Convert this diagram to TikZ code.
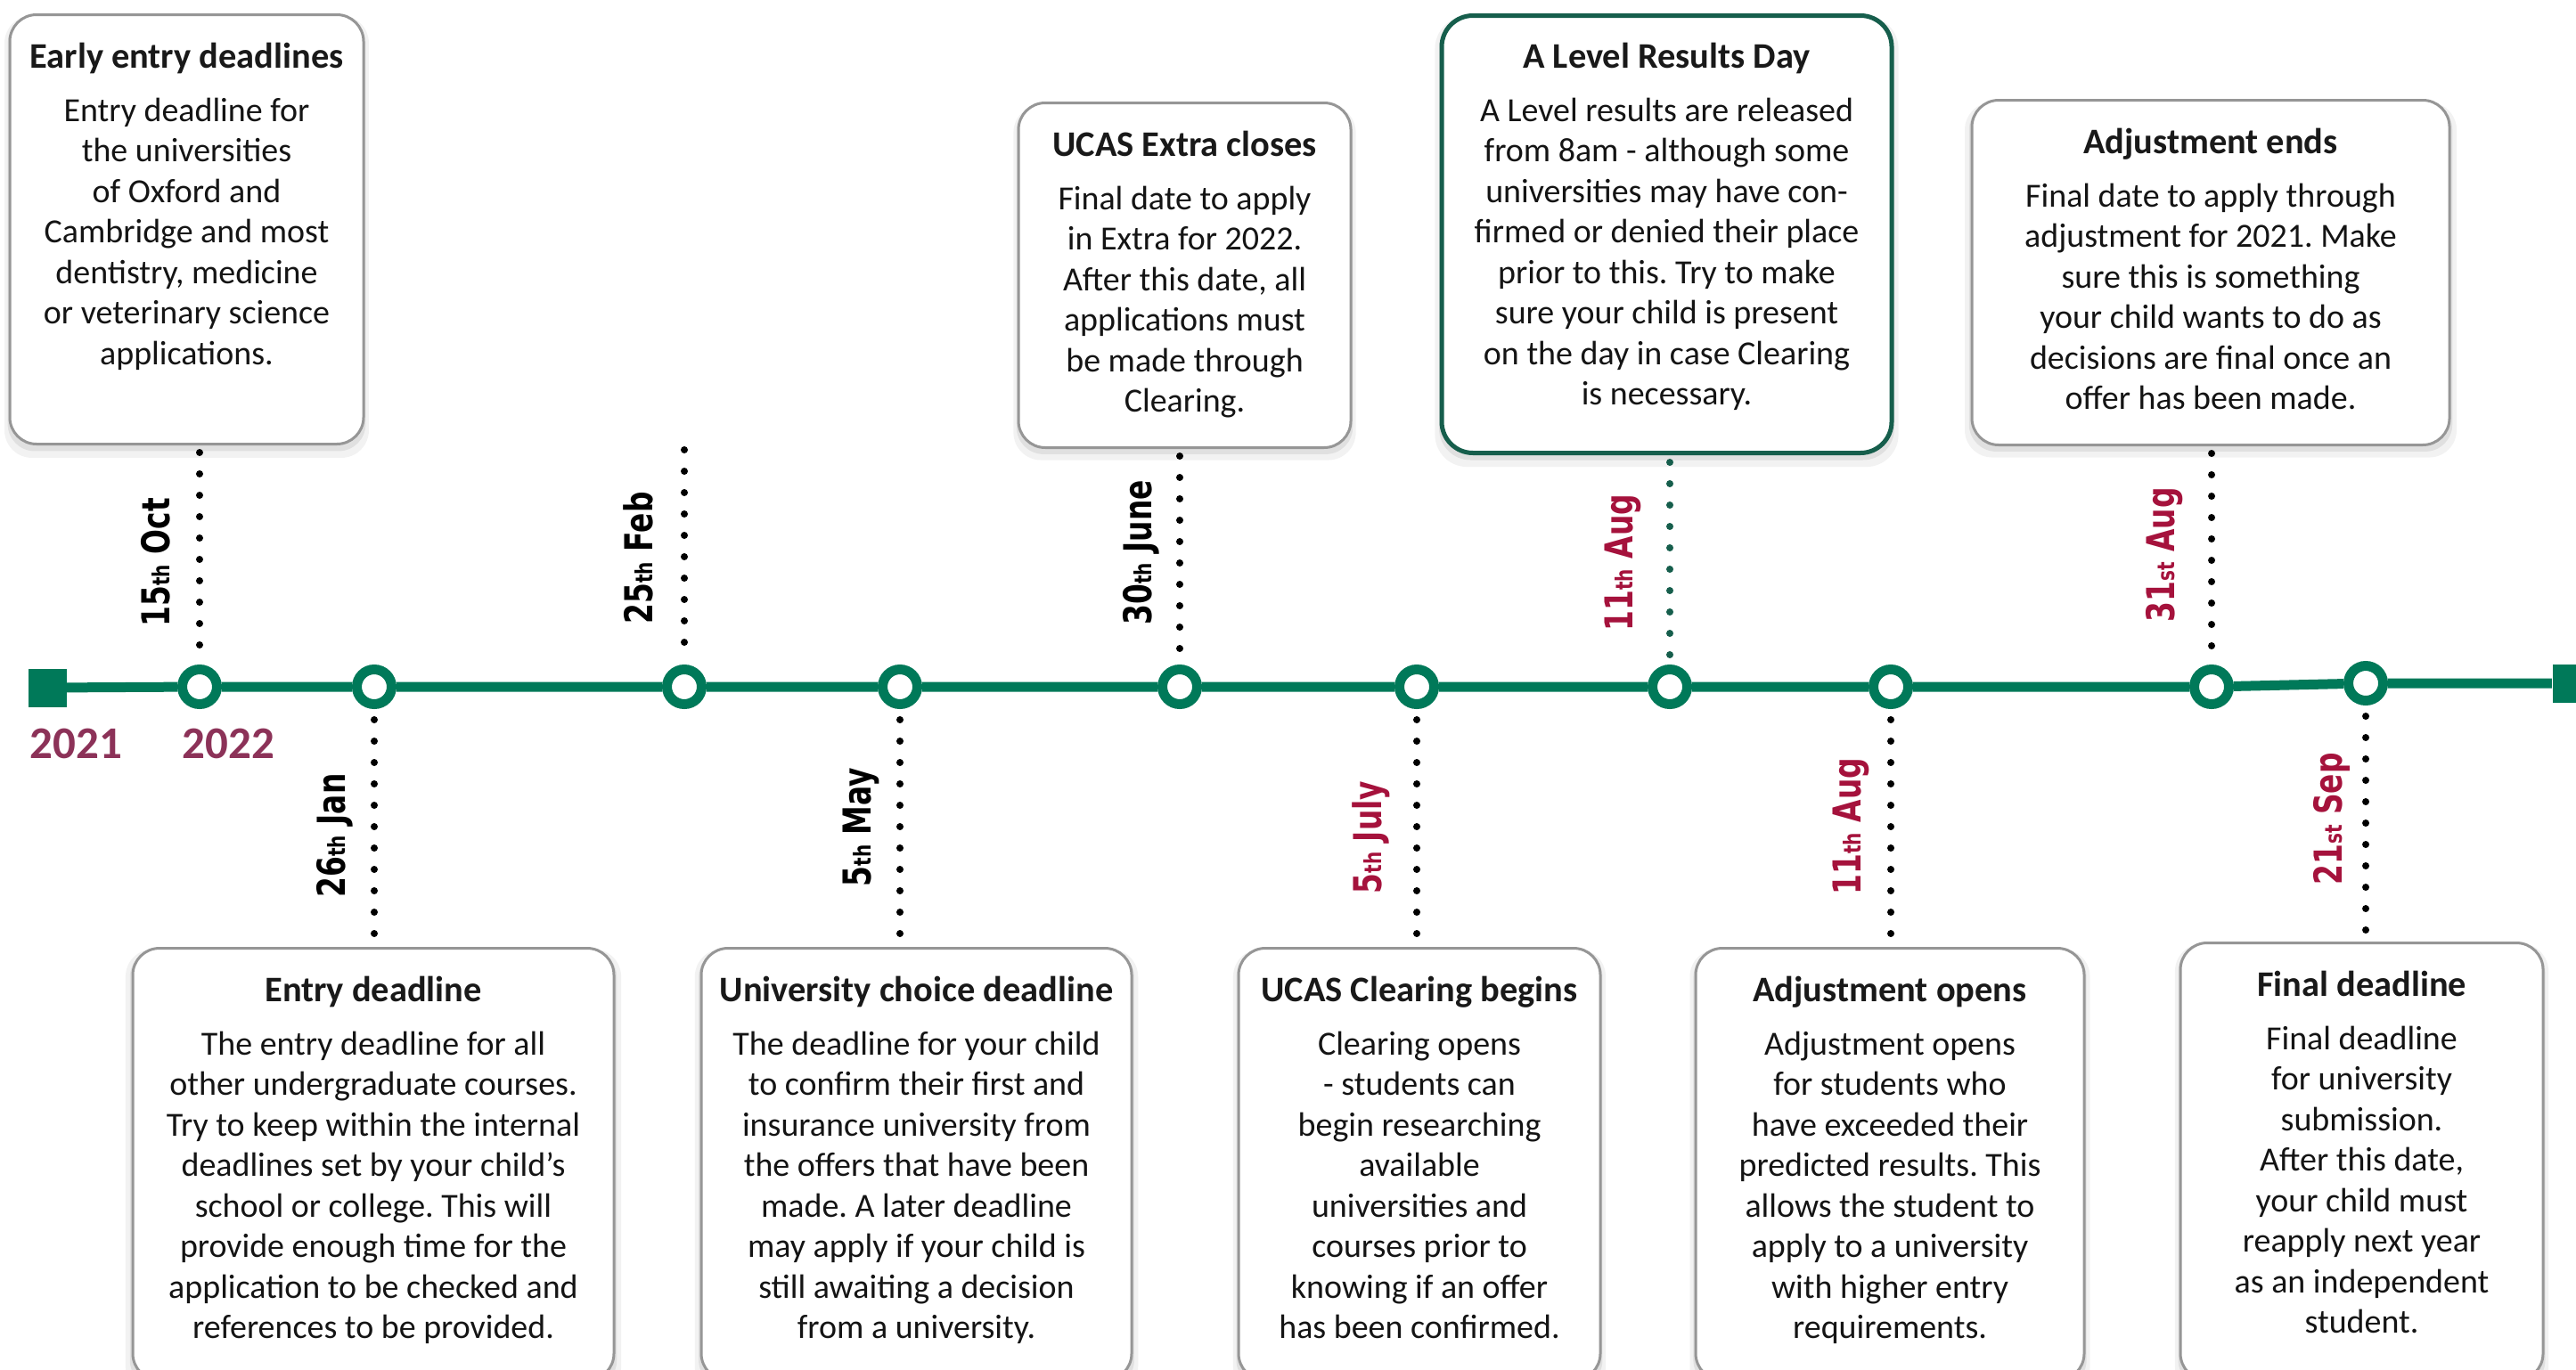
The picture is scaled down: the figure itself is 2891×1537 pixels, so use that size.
\documentclass[tikz,border=0pt]{standalone}
\usepackage{fontspec}
\setmainfont{Carlito}
\newfontfamily\datefont[FakeStretch=0.76]{DejaVu Sans}
\usepackage{tikz}
\usetikzlibrary{positioning,shadows}
\definecolor{tlgreen}{RGB}{0,121,89}
\definecolor{darkteal}{RGB}{22,94,76}
\definecolor{yearred}{RGB}{140,50,88}
\definecolor{datered}{RGB}{165,18,60}
\definecolor{cardgray}{RGB}{150,150,150}
\newcommand{\dt}[3]{#1{\fontsize{7.5}{9}\selectfont #2} #3}
\frenchspacing

\begin{document}
\begin{tikzpicture}[x=0.1mm, y=-0.1mm,
card/.style={draw=cardgray, line width=0.3mm, rounded corners=3mm, fill=white, inner sep=0pt,
  general shadow={fill=black, opacity=.05, shadow scale=1.03, shadow yshift=-0.8mm},
  general shadow={fill=black, opacity=.07, shadow scale=1.012, shadow yshift=-0.5mm}},
keycard/.style={card, draw=darkteal, line width=0.5mm, rounded corners=3.5mm},
ttl/.style={font=\bfseries\fontsize{11.5}{14}\selectfont, text=black!90, inner sep=0pt, anchor=base},
txt/.style={font=\fontsize{10.8}{12.95}\selectfont, text=black!92, align=center, inner sep=0pt, anchor=north},
ring/.style={circle, draw=tlgreen, line width=1.1mm, fill=white, minimum size=3.9mm, inner sep=0pt},
endsq/.style={rectangle, fill=tlgreen, minimum size=4.3mm, inner sep=0pt},
timeline/.style={draw=tlgreen, line width=1.1mm},
dots/.style={line width=0.8mm, dash pattern=on 0pt off 2.4mm, line cap=round},
datelbl/.style={font=\datefont\bfseries\fontsize{12.3}{14}\selectfont, rotate=90, anchor=base west, inner sep=0pt},
year/.style={font=\bfseries\fontsize{14.5}{17}\selectfont, text=yearred, anchor=base west, inner sep=0pt}]
\useasboundingbox (0,0) rectangle (2891,1537);
\clip (0,0) rectangle (2891,1537);
\fill[white] (0,0) rectangle (2891,1537);

% cards above the line
\node[card, minimum width=39.7mm, minimum height=48.2mm, anchor=north] (early) at (209.5,15) {};
\node[card, minimum width=37.3mm, minimum height=38.7mm, anchor=north] (extra) at (1329.5,114) {};
\node[keycard, minimum width=50.5mm, minimum height=49.1mm, anchor=north] (results) at (1870.5,15) {};
\node[card, minimum width=53.6mm, minimum height=38.7mm, anchor=north] (adjend) at (2481,111) {};
% cards below the line
\node[card, minimum width=54.0mm, minimum height=48.5mm, anchor=north] (entry) at (419,1063) {};
\node[card, minimum width=48.3mm, minimum height=48.5mm, anchor=north] (choice) at (1028.5,1063) {};
\node[card, minimum width=40.6mm, minimum height=48.5mm, anchor=north] (clearing) at (1593,1063) {};
\node[card, minimum width=43.6mm, minimum height=48.5mm, anchor=north] (adjopen) at (2121,1063) {};
\node[card, minimum width=40.7mm, minimum height=49.1mm, anchor=north] (final) at (2650.5,1057) {};

\node[ttl] (early-t) at ([yshift=-6.1mm]early.north) {Early entry deadlines};
\node[txt] (early-b) at ([yshift=-9.4mm]early.north) {Entry deadline for\\the universities\\of Oxford and\\Cambridge and most\\dentistry, medicine\\or veterinary science\\applications.};
\node[ttl] (extra-t) at ([yshift=-6.1mm]extra.north) {UCAS Extra closes};
\node[txt] (extra-b) at ([yshift=-9.4mm]extra.north) {Final date to apply\\in Extra for 2022.\\After this date, all\\applications must\\be made through\\Clearing.};
\node[ttl] (results-t) at ([yshift=-6.1mm]results.north) {A Level Results Day};
\node[txt] (results-b) at ([yshift=-9.4mm]results.north) {A Level results are released\\from 8am - although some\\universities may have con-\\firmed or denied their place\\prior to this. Try to make\\sure your child is present\\on the day in case Clearing\\is necessary.};
\node[ttl] (adjend-t) at ([yshift=-6.1mm]adjend.north) {Adjustment ends};
\node[txt] (adjend-b) at ([yshift=-9.4mm]adjend.north) {Final date to apply through\\adjustment for 2021. Make\\sure this is something\\your child wants to do as\\decisions are final once an\\offer has been made.};
\node[ttl] (entry-t) at ([yshift=-6.1mm]entry.north) {Entry deadline};
\node[txt] (entry-b) at ([yshift=-9.4mm]entry.north) {The entry deadline for all\\other undergraduate courses.\\Try to keep within the internal\\deadlines set by your child’s\\school or college. This will\\provide enough time for the\\application to be checked and\\references to be provided.};
\node[ttl] (choice-t) at ([yshift=-6.1mm]choice.north) {University choice deadline};
\node[txt] (choice-b) at ([yshift=-9.4mm]choice.north) {The deadline for your child\\to confirm their first and\\insurance university from\\the offers that have been\\made. A later deadline\\may apply if your child is\\still awaiting a decision\\from a university.};
\node[ttl] (clearing-t) at ([yshift=-6.1mm]clearing.north) {UCAS Clearing begins};
\node[txt] (clearing-b) at ([yshift=-9.4mm]clearing.north) {Clearing opens\\- students can\\begin researching\\available\\universities and\\courses prior to\\knowing if an offer\\has been confirmed.};
\node[ttl] (adjopen-t) at ([yshift=-6.1mm]adjopen.north) {Adjustment opens};
\node[txt] (adjopen-b) at ([yshift=-9.4mm]adjopen.north) {Adjustment opens\\for students who\\have exceeded their\\predicted results. This\\allows the student to\\apply to a university\\with higher entry\\requirements.};
\node[ttl] (final-t) at ([yshift=-6.1mm]final.north) {Final deadline};
\node[txt] (final-b) at ([yshift=-9.4mm]final.north) {Final deadline\\for university\\submission.\\After this date,\\your child must\\reapply next year\\as an independent\\student.};

% the time line
\node[endsq] (start) at (53,772) {};
\node[endsq] (stop) at (2886,767) {};
\node[ring] (oct) at (224,771) {};
\node[ring] (jan) at (420,771) {};
\node[ring] (feb) at (768,771) {};
\node[ring] (may) at (1010,771) {};
\node[ring] (june) at (1324,771) {};
\node[ring] (july) at (1590,771) {};
\node[ring] (aug) at (1874,771) {};
\node[ring] (augb) at (2122,771) {};
\node[ring] (augc) at (2482,771) {};
\node[ring] (sep) at (2655,767) {};
\draw[timeline] (start) -- (oct) -- (jan) -- (feb) -- (may) -- (june) -- (july) -- (aug) -- (augb) -- (augc) -- (sep) -- (stop);

\node[year] (y2021) at (33,851) {2021};
\node[year] (y2022) at (204,851) {2022};

% dotted leaders
\coordinate (febtop) at (768,505);
\draw[dots, shorten <=0.8mm, shorten >=0.9mm] (early.south -| oct) -- (oct.north);
\draw[dots, shorten >=0.9mm] (febtop) -- (feb.north);
\draw[dots, shorten <=0.8mm, shorten >=0.9mm] (extra.south -| june) -- (june.north);
\draw[dots, darkteal, shorten <=0.8mm, shorten >=0.9mm] (results.south -| aug) -- (aug.north);
\draw[dots, shorten <=0.8mm, shorten >=0.9mm] (adjend.south -| augc) -- (augc.north);
\draw[dots, shorten <=1.2mm, shorten >=0.7mm] (jan.south) -- (jan |- entry.north);
\draw[dots, shorten <=1.2mm, shorten >=0.7mm] (may.south) -- (may |- choice.north);
\draw[dots, shorten <=1.2mm, shorten >=0.7mm] (july.south) -- (july |- clearing.north);
\draw[dots, shorten <=1.2mm, shorten >=0.7mm] (augb.south) -- (augb |- adjopen.north);
\draw[dots, shorten <=1.2mm, shorten >=0.7mm] (sep.south) -- (sep |- final.north);

% dates
\foreach \x/\y/\col/\d in {190/704/black/{\dt{15}{th}{Oct}}, 732/701/black/{\dt{25}{th}{Feb}},
  1292/702/black/{\dt{30}{th}{June}}, 1832/709/datered/{\dt{11}{th}{Aug}}, 2440/699/datered/{\dt{31}{st}{Aug}},
  387/1008/black/{\dt{26}{th}{Jan}}, 977/996/black/{\dt{5}{th}{May}}, 1550/1004/datered/{\dt{5}{th}{July}},
  2088/1005/datered/{\dt{11}{th}{Aug}}, 2628/994/datered/{\dt{21}{st}{Sep}}}
  \node[datelbl, text=\col] at (\x,\y) {\d};
\end{tikzpicture}
\end{document}
